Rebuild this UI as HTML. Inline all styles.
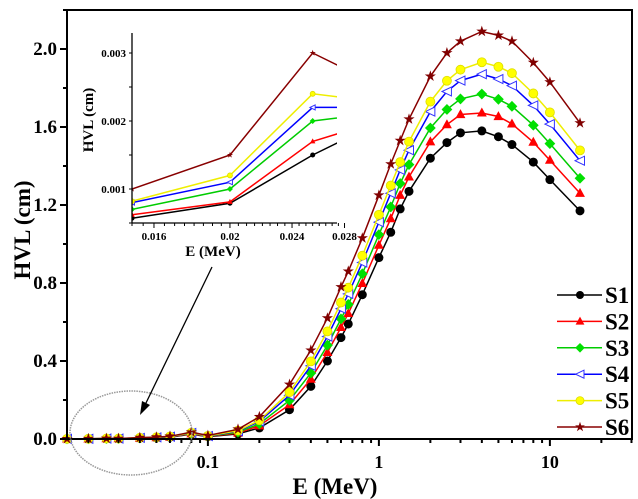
<!DOCTYPE html>
<html><head><meta charset="utf-8"><style>
html,body{margin:0;padding:0;background:#fff;}
svg{display:block;font-family:"Liberation Serif",serif;font-weight:bold;}
</style></head><body>
<svg id="c" width="638" height="499" viewBox="0 0 638 499"></svg>
<script>
const energies=[0.015,0.02,0.0255,0.03,0.04,0.05,0.06,0.08,0.1,0.15,0.2,0.3,0.4,0.5,0.6,0.662,0.8,1,1.173,1.332,1.5,2,2.5,3,4,5,6,8,10,15];
const s1=[0.00057,0.00079,0.0015,0.0019,0.004,0.006,0.009,0.025,0.012,0.026,0.057,0.15,0.27,0.40,0.52,0.59,0.74,0.93,1.06,1.18,1.27,1.44,1.52,1.57,1.58,1.55,1.51,1.42,1.33,1.17];
const s2=[0.00062,0.00081,0.0017,0.00195,0.0046,0.007,0.010,0.027,0.013,0.031,0.068,0.176,0.307,0.444,0.572,0.644,0.798,0.994,1.13,1.25,1.344,1.524,1.612,1.664,1.672,1.654,1.616,1.522,1.43,1.26];
const s3=[0.0007,0.001,0.002,0.0021,0.0051,0.0075,0.011,0.029,0.014,0.035,0.078,0.198,0.338,0.481,0.616,0.69,0.847,1.048,1.19,1.31,1.407,1.595,1.69,1.744,1.769,1.742,1.706,1.609,1.515,1.337];
const s4=[0.0008,0.0011,0.0022,0.0022,0.0057,0.0083,0.012,0.031,0.015,0.04,0.09,0.224,0.375,0.525,0.668,0.744,0.905,1.112,1.26,1.38,1.481,1.679,1.782,1.838,1.871,1.846,1.812,1.711,1.615,1.427];
const s5=[0.00082,0.0012,0.0024,0.0023,0.006,0.0087,0.013,0.032,0.016,0.043,0.096,0.24,0.398,0.552,0.70,0.776,0.94,1.15,1.30,1.42,1.525,1.73,1.837,1.894,1.932,1.909,1.876,1.772,1.675,1.48];
const s6=[0.001,0.0015,0.003,0.0026,0.007,0.01,0.014,0.035,0.018,0.05,0.114,0.28,0.455,0.62,0.78,0.86,1.03,1.25,1.41,1.53,1.64,1.86,1.98,2.04,2.09,2.07,2.04,1.93,1.83,1.62];
const seriesNames=["S1","S2","S3","S4","S5","S6"];
const yTicks=[0,0.4,0.8,1.2,1.6,2.0];
const yTickLabels=["0.0","0.4","0.8","1.2","1.6","2.0"];
const xTicks=[0.1,1,10];
const xTickLabels=["0.1","1","10"];
const insetYTicks=[0.001,0.002,0.003];
const insetYLabels=["0.001","0.002","0.003"];
const insetXTicks=[0.016,0.02,0.024,0.028];
const insetXLabels=["0.016","0.02","0.024","0.028"];

const NS="http://www.w3.org/2000/svg";
const svg=document.getElementById('c');
function mk(tag,attrs,parent){const e=document.createElementNS(NS,tag);for(const k in attrs)e.setAttribute(k,attrs[k]);(parent||svg).appendChild(e);return e;}
const allS=[s1,s2,s3,s4,s5,s6];
const colors=["#000000","#ff0000","#00e000","#0000ff","#ffff00","#800000"];
const strokes=["#000","#f00","#0c0","#00f","#ee0","#800"];
const markers=["circle","tri","diamond","ltri","ball","star"];

const L=67,R=632,T=10,B=439;
const xLmin=Math.log10(0.015),xDec=171;
function X(v){return L+(Math.log10(v)-xLmin)*xDec;}
function Y(v){return B-v*195;}

function marker(g,type,x,y,i,sz){
  const c=colors[i];let e;
  if(type==="circle"){e=mk('circle',{cx:x,cy:y,r:sz,fill:c},g);}
  else if(type==="tri"){e=mk('polygon',{points:`${x},${y-sz*1.2} ${x-sz*1.1},${y+sz*0.8} ${x+sz*1.1},${y+sz*0.8}`,fill:c},g);}
  else if(type==="diamond"){e=mk('polygon',{points:`${x},${y-sz*1.2} ${x+sz*1.2},${y} ${x},${y+sz*1.2} ${x-sz*1.2},${y}`,fill:c},g);}
  else if(type==="ltri"){e=mk('polygon',{points:`${x-sz*1.1},${y} ${x+sz},${y-sz} ${x+sz},${y+sz}`,fill:'#fff',stroke:'#33f','stroke-width':1},g);}
  else if(type==="ball"){e=mk('circle',{cx:x,cy:y,r:sz,fill:'#ff0',stroke:'#dd0','stroke-width':0.8},g);}
  else {let p=[];for(let k=0;k<10;k++){const r=k%2?sz*0.5:sz*1.3;const a=-Math.PI/2+k*Math.PI/5;p.push((x+r*Math.cos(a)).toFixed(1)+','+(y+r*Math.sin(a)).toFixed(1));}e=mk('polygon',{points:p.join(' '),fill:c},g);}
  
  
}

allS.forEach((s,i)=>{
  const g=mk('g',{});
  
  
  const pts=energies.map((e,j)=>X(e).toFixed(1)+','+Y(s[j]).toFixed(1)).join(' ');
  mk('polyline',{points:pts,fill:'none',stroke:strokes[i],'stroke-width':1.5},g);
  energies.forEach((e,j)=>marker(g,markers[i],X(e),Y(s[j]),i,4.5));
});

const fr=mk('rect',{x:L,y:T,width:R-L,height:B-T,fill:'none',stroke:'#000','stroke-width':2});

for(let v=0;v<=2.2001;v+=0.2){const y=Y(v);const major=Math.abs((v/0.4)-Math.round(v/0.4))<1e-6;mk('line',{x1:L,x2:L-(major?7:4),y1:y,y2:y,stroke:'#000','stroke-width':2});}
yTicks.forEach((v,i)=>{const t=mk('text',{x:L-10,y:Y(v)+6,'text-anchor':'end','font-size':19});t.textContent=yTickLabels[i];});
for(let d=-2;d<=1;d++){for(let m=1;m<=9;m++){const v=m*Math.pow(10,d);if(v<0.015||v>30)continue;const x=X(v);mk('line',{x1:x,x2:x,y1:B,y2:B+(m===1?7:4),stroke:'#000','stroke-width':2});}}
xTicks.forEach((v,i)=>{const t=mk('text',{x:X(v),y:468,'text-anchor':'middle','font-size':18});t.textContent=xTickLabels[i];});
let t=mk('text',{x:335,y:494,'text-anchor':'middle','font-size':23});t.textContent='E (MeV)';
t=mk('text',{x:0,y:0,transform:'translate(30,230) rotate(-90)','text-anchor':'middle','font-size':23});t.textContent='HVL (cm)';

const lg=mk('g',{});
seriesNames.forEach((n,i)=>{const y=295+i*26.4;const g=mk('g',{},lg);
  mk('line',{x1:557,x2:602,y1:y,y2:y,stroke:strokes[i],'stroke-width':1.5},g);marker(g,markers[i],580,y,i,4);
  const tt=mk('text',{x:605,y:y+8,'font-size':23},g);tt.textContent=n;});

const el=mk('ellipse',{cx:131,cy:433,rx:61,ry:42,fill:'none',stroke:'#999','stroke-width':1.5,'stroke-dasharray':'1.5 1'});
const ar=mk('line',{x1:212,y1:267,x2:145,y2:405,stroke:'#000','stroke-width':1.3});
mk('polygon',{points:'140,415 142,401 150,405',fill:'#000'});

const IL=132,IR=337,IT=33,IB=223;
const ixMin=Math.log10(0.015),ixDec=784;
function IX(v){return IL+(Math.log10(v)-ixMin)*ixDec;}
function IY(v){return 189-(v-0.001)*68000;}
const ig=mk('g',{});
mk('clipPath',{id:'ic'},ig);mk('rect',{x:IL,y:IT,width:IR-IL,height:IB-IT},document.getElementById('ic'));
const isg=mk('g',{'clip-path':'url(#ic)'},ig);
allS.forEach((s,i)=>{const g=mk('g',{},isg);
  const pts=energies.map((e,j)=>IX(e).toFixed(1)+','+IY(s[j]).toFixed(1)).join(' ');
  mk('polyline',{points:pts,fill:'none',stroke:strokes[i],'stroke-width':1.5},g);
  energies.forEach((e,j)=>{if(e<=0.03)marker(g,markers[i],IX(e),IY(s[j]),i,2.5);});});
mk('line',{x1:IL,x2:IL,y1:IT,y2:IB,stroke:'#000','stroke-width':1.3},ig);
mk('line',{x1:IL,x2:IR,y1:IB,y2:IB,stroke:'#000','stroke-width':1.3},ig);
for(let v=0.0005;v<=0.00325;v+=0.0005){mk('line',{x1:IL,x2:IL-3,y1:IY(v),y2:IY(v),stroke:'#000','stroke-width':1},ig);}
insetYTicks.forEach((v,i)=>{const tt=mk('text',{x:IL-6,y:IY(v)+4,'text-anchor':'end','font-size':11},ig);tt.textContent=insetYLabels[i];});
for(let v=0.015;v<=0.0281;v+=0.0005){const x=IX(v);const maj=Math.abs(v*1000-Math.round(v*1000/4)*4)<0.01;mk('line',{x1:x,x2:x,y1:IB,y2:IB+(maj?5:3),stroke:'#000','stroke-width':1},ig);}
insetXTicks.forEach((v,i)=>{const tt=mk('text',{x:IX(v),y:IB+17,'text-anchor':'middle','font-size':11},ig);tt.textContent=insetXLabels[i];});
t=mk('text',{x:213,y:256,'text-anchor':'middle','font-size':15},ig);t.textContent='E (MeV)';
t=mk('text',{x:0,y:0,transform:'translate(93,120) rotate(-90)','text-anchor':'middle','font-size':15},ig);t.textContent='HVL (cm)';
</script>
</body></html>
